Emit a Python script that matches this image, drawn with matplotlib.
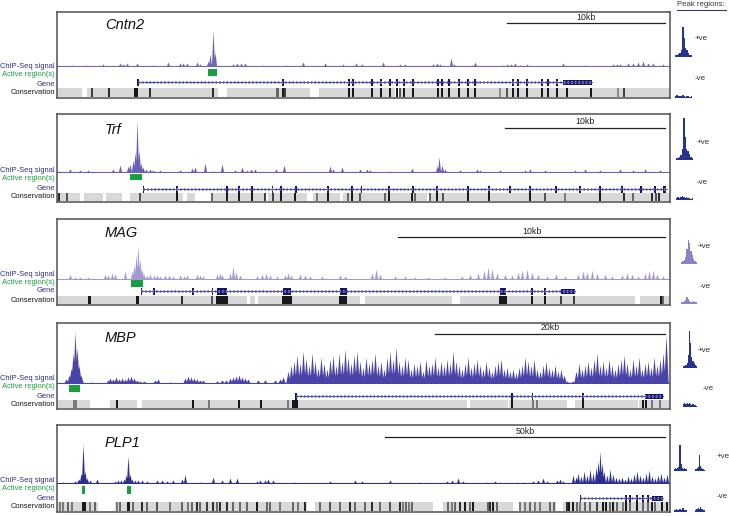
import numpy as np
import matplotlib.pyplot as plt
from matplotlib.patches import Rectangle
from matplotlib.lines import Line2D

W, H = 729, 516
SANS = ['Liberation Sans', 'DejaVu Sans']

# ---------------- data ----------------
genes = ['Cntn2', 'Trf', 'MAG', 'MBP', 'PLP1']
scale_labels = ['10kb', '10kb', '10kb', '20kb', '50kb']
scale_from = [450, 448, 341, 378, 328]
scale_to = [608, 608, 608, 608, 608]

# ChIP-seq signal: peak positions along the window and peak heights
cntn2_pos = [151, 153, 156, 158,
             15, 28, 46, 63, 66, 70, 80, 96, 111, 123, 126, 130, 140, 143, 176, 180, 184, 188, 206, 229,
             246, 268, 286, 299, 305, 326, 343, 348, 376, 380, 383, 394, 397, 415, 418, 446, 450, 454,
             458, 463, 470, 506, 528, 556, 560, 563, 571, 576, 581, 586, 591, 596, 606]
cntn2_sig = [5, 12, 36, 14,
             1, 1, 2, 3, 2, 3, 3, 1, 4, 3, 3, 3, 4, 2, 2, 3, 3, 3, 1, 1,
             4, 3, 2, 3, 2, 4, 2, 2, 2, 3, 2, 8, 2, 1, 4, 1, 2, 2,
             3, 1, 2, 3, 1, 2, 2, 2, 3, 3, 4, 5, 3, 3, 2]

trf_pos = [71, 73, 76, 78, 80, 82, 84, 86,
           1, 13, 23, 31, 56, 63, 89, 93, 96, 103, 123, 135, 138, 148, 156, 165, 178, 185, 190, 194,
           198, 219, 227, 273, 276, 285, 303, 310, 313, 333, 355, 380, 382, 385, 388, 403, 420, 423,
           443, 468, 473, 488, 518, 528, 543, 563, 576, 588, 603]
trf_sig = [6, 8, 12, 20, 52, 22, 9, 5,
           1, 3, 2, 2, 3, 7, 3, 3, 2, 2, 2, 4, 5, 9, 1, 8, 2, 5, 2, 3,
           3, 3, 7, 6, 3, 5, 3, 3, 2, 1, 4, 6, 15, 7, 3, 2, 3, 2,
           2, 2, 3, 2, 2, 3, 2, 3, 2, 3, 2]

mag_pos = [75, 77, 79, 81, 83, 85, 87,
           13, 18, 23, 31, 48, 51, 55, 58, 68, 90, 93, 97, 100, 103, 108, 112, 116, 123, 127, 130,
           140, 143, 146, 160, 163, 165, 173, 176, 179, 183, 200, 205, 209, 213, 220, 228, 231, 234,
           243, 248, 253, 265, 283, 288, 315, 319, 323, 338, 348, 358, 371, 388, 405, 413, 421, 427,
           431, 435, 440, 448, 455, 461, 465, 470, 475, 481, 490, 499, 508, 521, 526, 530, 535, 540,
           548, 555, 565, 570, 575, 581, 588, 592, 596, 600, 606]
mag_sig = [8, 14, 25, 34, 20, 10, 5,
           5, 2, 2, 2, 5, 4, 6, 5, 8, 4, 5, 4, 4, 3, 4, 4, 3, 4, 3, 4,
           5, 4, 3, 5, 6, 4, 6, 13, 7, 4, 3, 5, 6, 4, 3, 4, 6, 4,
           5, 4, 3, 3, 4, 3, 6, 10, 5, 3, 3, 2, 2, 2, 3, 5, 6, 9,
           12, 10, 6, 5, 4, 7, 9, 10, 7, 5, 3, 5, 3, 5, 8, 7, 9, 6,
           5, 3, 4, 6, 5, 3, 6, 8, 9, 5, 3]

mbp_pos = [9, 12, 14, 16, 18, 20, 22, 24,
           35, 51, 53, 56, 59, 62, 65, 68, 71, 74, 77, 80, 83, 87, 98, 101, 113, 128, 131, 134,
           137, 140, 143, 146, 160, 165, 169, 173, 176, 179, 182, 185, 188, 191, 201, 208, 218, 223, 226]
mbp_sig = [4, 8, 15, 30, 51, 35, 18, 8,
           1, 3, 5, 4, 6, 4, 5, 4, 6, 7, 5, 3, 2, 2, 3, 4, 1, 5, 7, 6,
           5, 4, 3, 3, 2, 3, 3, 5, 6, 7, 8, 6, 5, 4, 3, 3, 3, 4, 6]
# dense part of the MBP track, one value per 3-unit bin starting at 231
mbp_dense = [12, 18, 22, 28, 20, 32, 25, 18, 30, 22,
             15, 26, 20, 14, 24, 28, 18, 30, 22, 34,
             26, 20, 28, 32, 22, 16, 26, 20, 24, 30,
             18, 22, 14, 26, 32, 24, 36, 22, 18, 26,
             24, 14, 20, 18, 22, 12, 24, 18, 20, 26,
             16, 22, 18, 24, 20, 32, 22, 18, 14, 20,
             26, 16, 20, 24, 18, 14, 22, 16, 12, 18,
             22, 24, 14, 16, 12, 14, 10, 16, 18, 26,
             22, 18, 24, 14, 12, 18, 22, 16, 14, 18,
             12, 14, 8, 2, 1, 2, 12, 20, 14, 18,
             22, 16, 24, 30, 18, 22, 16, 24, 18, 14,
             20, 24, 28, 20, 14, 24, 18, 26, 14, 20,
             22, 16, 26, 18, 24, 30, 48]

plp1_pos = [22, 24, 26, 28, 30, 67, 69, 71, 73, 75,
            6, 18, 21, 33, 40, 58, 61, 64, 78, 81, 85, 90, 100, 105, 110, 116, 125, 128, 143, 156,
            165, 173, 180, 200, 203, 208, 211, 216, 238, 273, 298, 305, 333, 363, 390, 395, 401, 406,
            430, 438, 443, 460, 466, 476, 481, 486, 490, 500, 503, 506,
            516, 519, 521, 524, 527, 530, 533, 536, 539, 541, 543, 545, 547, 550, 553, 556, 559, 562,
            565, 568, 571, 574, 577, 580, 583, 586, 589, 592, 595, 598, 601, 604, 607, 610]
plp1_sig = [4, 10, 39, 12, 5, 4, 8, 27, 9, 4,
            1, 2, 3, 3, 4, 2, 3, 3, 3, 3, 3, 2, 3, 3, 2, 3, 4, 8, 1, 6,
            3, 5, 5, 2, 3, 3, 4, 3, 1, 2, 3, 2, 3, 1, 2, 3, 5, 2,
            1, 2, 1, 1, 1, 2, 3, 5, 2, 3, 4, 2,
            8, 6, 10, 7, 12, 8, 14, 10, 16, 22, 32, 20, 12, 8, 14, 9, 6, 5,
            6, 4, 7, 5, 9, 12, 8, 6, 10, 13, 7, 5, 8, 10, 6, 9]

# active regions (start, end)
cntn2_active = [(151, 160)]
trf_active = [(73, 85)]
mag_active = [(74, 86)]
mbp_active = [(12, 23)]
plp1_active = [(25, 28), (70, 74)]

# genes: transcript span, exons (start, end), thick UTR blocks
cntn2_span = (81, 535)
cntn2_exons = [(80, 82), (225, 227), (291, 293), (295, 297), (314, 316), (323, 325), (332, 334),
               (339, 341), (346, 348), (355, 357), (380, 382), (384, 386), (391, 393), (401, 403),
               (410, 412), (417, 419), (455, 457), (460, 462), (469, 471), (484, 486), (490, 492),
               (499, 501)]
cntn2_utr = [(506, 535)]
trf_span = (86, 610)
trf_exons = [(86, 87), (119, 121), (169, 171), (181, 183), (194, 196), (215, 216), (223, 225),
             (238, 240), (270, 272), (294, 296), (304, 305), (331, 333), (355, 357), (379, 381),
             (410, 412), (431, 433), (452, 454), (472, 474), (498, 500), (522, 524), (542, 544),
             (564, 566), (583, 585), (597, 599), (606, 609)]
trf_utr = []
mag_span = (84, 518)
mag_exons = [(84, 85), (96, 98), (135, 137), (155, 156), (160, 170), (226, 234), (283, 290),
             (443, 449), (474, 476), (487, 489)]
mag_utr = [(504, 518)]
mbp_span = (239, 606)
mbp_exons = [(238, 240), (454, 456), (475, 476), (525, 527)]
mbp_utr = [(588, 606)]
plp1_span = (523, 606)
plp1_exons = [(523, 524), (568, 570), (572, 574), (579, 581), (585, 587), (590, 592)]
plp1_utr = [(595, 606)]

# conservation: unaligned gaps and conserved elements (position, score)
cntn2_gaps = [(25, 30), (161, 170), (253, 262), (338, 343)]
cntn2_cons = [(35, .8), (52, .9), (78, 1), (80, 1), (93, .9), (156, .9), (220, .6), (221, .6),
              (228, .8), (226, 1), (292, 1), (296, 1), (315, 1), (324, 1), (333, 1), (340, 1),
              (347, 1), (343, .7), (356, 1), (381, 1), (385, 1), (392, 1), (402, 1), (411, 1),
              (418, 1), (443, .4), (450, .7), (456, 1), (461, 1), (470, 1), (485, 1), (491, 1),
              (500, 1), (510, 1), (534, 1), (561, .4), (567, .8)]
trf_gaps = [(23, 27), (46, 49), (65, 73), (126, 130), (138, 156), (208, 211), (250, 256),
            (283, 286), (370, 373)]
trf_cons = [(2, .9), (10, .7), (83, .7), (120, 1), (155, .6), (170, 1), (182, 1), (195, 1),
            (208, .8), (216, .8), (224, 1), (238, 1), (260, .5), (271, 1), (291, .6), (295, 1),
            (303, .7), (328, .6), (332, 1), (355, 1), (358, .6), (373, .6), (380, 1), (386, .7),
            (411, 1), (432, 1), (473, 1), (488, .7), (508, .5), (543, 1), (567, .9), (576, .6),
            (595, .9), (599, .7), (602, .9)]
mag_gaps = [(190, 193), (198, 201), (303, 308), (395, 403), (578, 583)]
mag_cons = [(32, 1), (33, 1), (80, 1), (81, 1), (125, .9), (155, .7), (160, 1), (162, 1), (164, 1),
            (166, 1), (168, 1), (170, 1), (226, 1), (228, 1), (230, 1), (232, 1), (234, 1),
            (283, 1), (285, 1), (287, 1), (289, 1), (443, 1), (445, 1), (447, 1), (449, 1),
            (475, 1), (488, 1), (504, .8), (517, .8), (604, 1), (606, .6)]
mbp_gaps = [(33, 53), (80, 85), (410, 413), (451, 452), (510, 518), (581, 582)]
mbp_cons = [(17, .5), (19, .5), (60, 1), (136, 1), (152, .5), (182, 1), (204, 1), (231, .5),
            (236, 1), (238, 1), (240, 1), (455, 1), (476, .5), (480, .5), (526, 1), (586, 1),
            (589, 1), (595, .5), (603, .5)]
plp1_gaps = [(41, 58), (250, 258), (376, 386), (456, 462), (499, 506)]
plp1_cons = [(3, .5), (6, .5), (11, .6), (15, .5), (26, 1), (28, 1), (33, .5), (38, .6), (60, .5),
             (63, .6), (71, 1), (72, 1), (76, .6), (85, .9), (90, .6), (100, .7), (113, .5),
             (125, .6), (131, .5), (135, .6), (140, .9), (143, .6), (150, .8), (156, .9), (160, .6),
             (163, .9), (170, .9), (176, .6), (183, .6), (190, .6), (200, 1), (210, .6), (213, .6),
             (223, .5), (236, .6), (241, .5), (248, .9), (263, .6), (273, .7), (283, .6),
             (293, .9), (298, .6), (308, .6), (315, .9), (323, .6), (333, .7), (343, .9), (346, .5),
             (349, .6), (352, .5), (355, .6), (391, .6), (395, .5), (398, .6), (403, .9), (408, 1),
             (413, .6), (416, 1), (431, .6), (433, .9), (436, 1), (440, .6), (463, .5), (468, .5),
             (473, .6), (478, .5), (483, .5), (493, .6), (497, .6), (510, .9), (512, 1), (516, 1),
             (520, .6), (523, .5), (528, .6), (533, .6), (540, .8), (546, 1), (549, 1), (553, .6),
             (556, 1), (560, .6), (566, .5), (569, 1), (573, .6), (580, 1), (586, .6), (591, .6),
             (595, 1), (598, .6), (605, 1), (610, 1)]

# peak-region summaries (aggregate profiles), +ve and -ve sets
cntn2_plus = [1, 1, 2, 3, 6, 29, 18, 8, 6, 3, 1, 1]
cntn2_minus = [1, 2, 1, 1, 1, 2, 1, 0, 1, 1, 0, 1]
trf_plus = [1, 1, 2, 4, 10, 41, 22, 10, 8, 5, 2, 1]
trf_minus = [1, 2, 1, 2, 3, 2, 1, 2, 1, 1, 0, 1]
mag_plus = [1, 2, 3, 6, 14, 23, 20, 12, 8, 4, 2, 1]
mag_minus = [1, 1, 2, 3, 6, 4, 2, 1, 1, 2, 1, 1]
mbp_plus = [1, 1, 2, 4, 12, 36, 24, 10, 6, 4, 2, 1]
mbp_minus = [2, 3, 2, 3, 2, 3, 2, 1, 2, 1, 1, 0]
plp1_plus = [[1, 2, 1, 2, 3, 25, 6, 2, 1, 2, 1, 1], [1, 1, 2, 1, 3, 15, 4, 2, 1, 2, 1, 0]]
plp1_minus = [[1, 2, 1, 2, 1, 3, 1, 1], [1, 2, 3, 2, 4, 2, 1, 1]]

# ---------------- layout / style ----------------
panels = [
    dict(pos=cntn2_pos, sig=cntn2_sig, active=cntn2_active, span=cntn2_span, exons=cntn2_exons,
         utr=cntn2_utr, gaps=cntn2_gaps, cons=cntn2_cons, plus=[cntn2_plus], minus=[cntn2_minus]),
    dict(pos=trf_pos, sig=trf_sig, active=trf_active, span=trf_span, exons=trf_exons,
         utr=trf_utr, gaps=trf_gaps, cons=trf_cons, plus=[trf_plus], minus=[trf_minus]),
    dict(pos=mag_pos, sig=mag_sig, active=mag_active, span=mag_span, exons=mag_exons,
         utr=mag_utr, gaps=mag_gaps, cons=mag_cons, plus=[mag_plus], minus=[mag_minus]),
    dict(pos=mbp_pos + list(np.arange(231, 231 + 3 * len(mbp_dense), 3)), sig=mbp_sig + mbp_dense,
         active=mbp_active, span=mbp_span, exons=mbp_exons,
         utr=mbp_utr, gaps=mbp_gaps, cons=mbp_cons, plus=[mbp_plus], minus=[mbp_minus]),
    dict(pos=plp1_pos, sig=plp1_sig, active=plp1_active, span=plp1_span, exons=plp1_exons,
         utr=plp1_utr, gaps=plp1_gaps, cons=plp1_cons, plus=plp1_plus, minus=plp1_minus),
]

X0, X1 = 57, 670
WIN = X1 - X0
tops = [12, 114, 219, 323, 425]
bases = [66, 172, 279, 383, 483]
rows = [  # green top/bottom, gene y, conservation top/bottom, frame bottom (below baseline)
    (3, 10, 16, 22, 31, 32),
    (2, 8, 17, 21, 29, 30),
    (1, 8, 12, 17, 25, 26),
    (2, 9, 13, 17, 25, 26),
    (3, 11, 15, 19, 28, 29),
]
label_dy = [(1, 9, 18, 27), (-1, 7, 16, 25), (-5, 4, 12, 22), (-5, 4, 13, 21), (-3, 6, 15, 24)]
title_dy = [13, 16, 14, 15, 18]
scale_dy = [11, 14, 18, 11, 12]
sig_colors = ['#6f66b3', '#6a5fb4', '#a39ad3', '#4b44a8', '#2b2f8f']
mini_colors = ['#26348f', '#26348f', '#8b82c9', '#26348f', '#26348f']
# mini profile boxes: list of (x0, x1), +ve baseline, -ve baseline, +ve label xy, -ve label xy
minis = [
    ([(675, 692)], 56, 97, (695, 38), (695, 78)),
    ([(676, 693)], 159, 199, (697, 143), (697, 183)),
    ([(681, 697)], 263, 303, (698, 247), (700, 287)),
    ([(683, 697)], 367, 406, (698, 350), (703, 389)),
    ([(674, 687), (695, 705)], 470, 511, (717, 457), (717, 497)),
]
GREEN = '#17a03d'
NAVY = '#141462'
LABEL_BLUE = '#2e2e86'
LABEL_FS = 5.4


def box(x0, y0, x1, y1):
    return [x0 / W, 1 - y1 / H, (x1 - x0) / W, (y1 - y0) / H]


def profile(pos, h, hw):
    x = np.linspace(0, WIN, WIN * 4 + 1)
    y = np.zeros_like(x)
    for p, v in zip(pos, h):
        y = np.maximum(y, v * np.clip(1 - np.abs(x - p) / hw, 0, None))
    return x, y


fig = plt.figure(figsize=(W / 100, H / 100), dpi=100)

for i, p in enumerate(panels):
    top, base = tops[i], bases[i]
    g0, g1, gy, c0, c1, bot = rows[i]
    col = sig_colors[i]

    # signal
    ax = fig.add_axes(box(X0, top, X1, base + 1))
    ax.set_xlim(0, WIN)
    ax.set_ylim(-1, base - top)
    ax.axis('off')
    hw = 2.2 if i == 3 else 1.6
    x, y = profile(p['pos'], p['sig'], hw)
    ax.fill_between(x, 0, y, color=col, lw=0)
    ax.axhline(0, color=col, lw=0.8)
    ytop = base - top
    ax.plot([scale_from[i], scale_to[i]], [ytop - scale_dy[i]] * 2, color='#222222', lw=0.9)
    ax.text((scale_from[i] + scale_to[i]) / 2, ytop - scale_dy[i] + 1.5, scale_labels[i],
            ha='center', va='bottom', fontsize=6.3, family=SANS, color='#222222')
    ax.text(48, ytop - title_dy[i], genes[i], ha='left', va='center', fontsize=10.5,
            style='italic', family=SANS, color='#111111')

    # lower tracks
    lx = fig.add_axes(box(X0, base, X1, base + bot))
    lx.set_xlim(0, WIN)
    lx.set_ylim(bot, 0)
    lx.axis('off')
    for s, e in p['active']:
        lx.add_patch(Rectangle((s, g0), e - s, g1 - g0, color=GREEN, lw=0))
    s, e = p['span']
    lx.plot([s, e], [gy, gy], color='#8c8cd0', lw=2.2, ls=(0, (0.5, 0.7)))
    lx.plot([s, e], [gy, gy], color='#3c3c9a', lw=0.6)
    for s, e in p['exons']:
        lx.add_patch(Rectangle((s, gy - 3.5), max(e - s, 1), 7, color=NAVY, lw=0))
    for s, e in p['utr']:
        lx.add_patch(Rectangle((s, gy - 2.5), e - s, 5, color=NAVY, lw=0))
    lx.add_patch(Rectangle((0, c0), WIN, c1 - c0, color='#d8d8d8', lw=0))
    for s, e in p['gaps']:
        lx.add_patch(Rectangle((s, c0), e - s, c1 - c0, color='white', lw=0))
    for q, sc in p['cons']:
        v = 0.85 - 0.75 * sc
        lx.add_patch(Rectangle((q - 0.8, c0), 1.6, c1 - c0, color=(v, v, v), lw=0))

    # frame
    fx = fig.add_axes(box(X0, top, X1, base + bot))
    fx.set_xticks([])
    fx.set_yticks([])
    fx.patch.set_alpha(0)
    for sp in fx.spines.values():
        sp.set_color('#505050')
        sp.set_linewidth(1.1)

    # row labels
    d = label_dy[i]
    lab = [('ChIP-Seq signal', d[0], LABEL_BLUE), ('Active region(s)', d[1], GREEN),
           ('Gene', d[2], LABEL_BLUE), ('Conservation', d[3], '#151515')]
    for t, dy, cc in lab:
        fig.text(55 / W, 1 - (base + dy) / H, t, ha='right', va='center', fontsize=LABEL_FS,
                 family=SANS, color=cc)

    # peak region summaries
    xs, pb, nb, pl, nl = minis[i]
    for k, (a, b) in enumerate(xs):
        for vals, yb in ((p['plus'][k], pb), (p['minus'][k], nb)):
            mx = fig.add_axes(box(a, yb - 45, b, yb + 1))
            mx.bar(range(len(vals)), vals, width=1.0, color=mini_colors[i], lw=0)
            mx.axhline(0, color=mini_colors[i], lw=0.8)
            mx.set_xlim(-0.5, len(vals) - 0.5)
            mx.set_ylim(-1, 45)
            mx.axis('off')
    fig.text(pl[0] / W, 1 - pl[1] / H, '+ve', ha='left', va='center', fontsize=5.8, family=SANS, color='#333333')
    fig.text(nl[0] / W, 1 - nl[1] / H, '-ve', ha='left', va='center', fontsize=5.8, family=SANS, color='#333333')

fig.text(677 / W, 1 - 5 / H, 'Peak regions:', ha='left', va='center', fontsize=5.6, family=SANS, color='#333344')
fig.add_artist(Line2D([677 / W, 726 / W], [1 - 10 / H, 1 - 10 / H], color='#3a3a7a', lw=0.8))

fig.savefig('out.png', dpi=100)
